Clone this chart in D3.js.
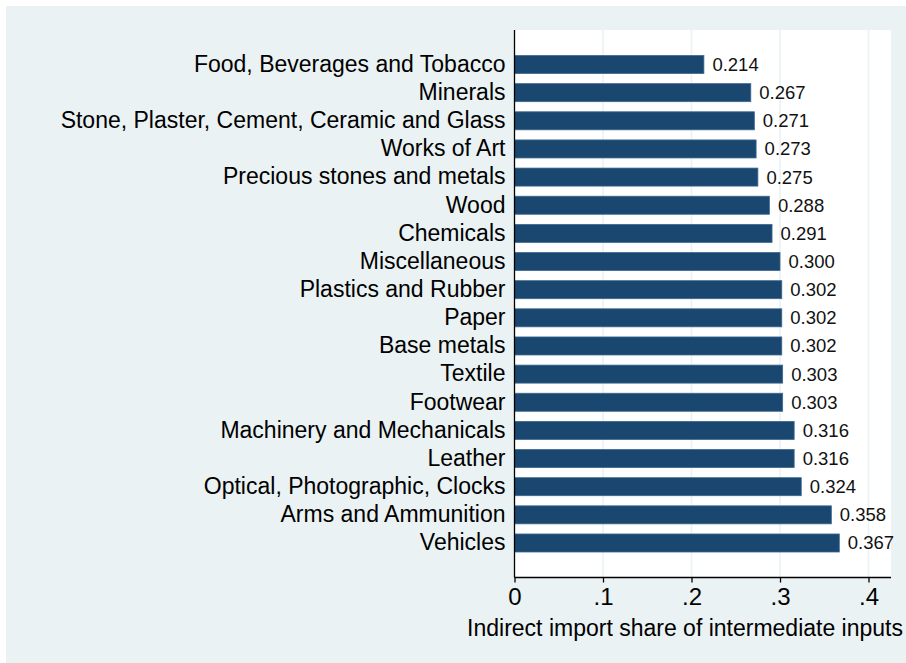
<!DOCTYPE html>
<html>
<head>
<meta charset="utf-8">
<script src="https://cdn.jsdelivr.net/npm/d3@7"></script>
<style>
html,body{margin:0;padding:0;background:#fff;}
svg{display:block;font-family:"Liberation Sans",Arial,Helvetica,sans-serif;}
</style>
</head>
<body>
<svg id="chart" width="906" height="663"></svg>
<script>
const categories = [
  "Food, Beverages and Tobacco",
  "Minerals",
  "Stone, Plaster, Cement, Ceramic and Glass",
  "Works of Art",
  "Precious stones and metals",
  "Wood",
  "Chemicals",
  "Miscellaneous",
  "Plastics and Rubber",
  "Paper",
  "Base metals",
  "Textile",
  "Footwear",
  "Machinery and Mechanicals",
  "Leather",
  "Optical, Photographic, Clocks",
  "Arms and Ammunition",
  "Vehicles"
];
const values = [0.214, 0.267, 0.271, 0.273, 0.275, 0.288, 0.291, 0.300, 0.302, 0.302, 0.302, 0.303, 0.303, 0.316, 0.316, 0.324, 0.358, 0.367];
const xTicks = [0, 0.1, 0.2, 0.3, 0.4];
const xTickLabels = ["0", ".1", ".2", ".3", ".4"];
const xTitle = "Indirect import share of intermediate inputs";

const svg = d3.select("#chart");
const W = 906, H = 663;

// graph region background
svg.append("rect").attr("x", 6).attr("y", 6).attr("width", W - 6).attr("height", H - 6).attr("fill", "#eaf2f3");

const plotLeft = 514.5, plotRight = 891, plotTop = 30, plotBottom = 577.5;
svg.append("rect").attr("x", plotLeft).attr("y", plotTop)
  .attr("width", plotRight - plotLeft).attr("height", plotBottom - plotTop).attr("fill", "#ffffff");

const x = d3.scaleLinear().domain([0, 0.4]).range([plotLeft, 868.5]);
const y = d3.scaleBand().domain(categories).range([plotTop, plotBottom])
  .paddingInner(0.36).paddingOuter(0.906);

// gridlines
svg.append("g").selectAll("line").data(xTicks.filter(d => d > 0)).join("line")
  .attr("x1", d => x(d)).attr("x2", d => x(d))
  .attr("y1", plotTop).attr("y2", plotBottom)
  .attr("stroke", "#eaf2f3").attr("stroke-width", 1.5);

// bars
svg.append("g").selectAll("rect").data(values).join("rect")
  .attr("x", x(0))
  .attr("y", (d, i) => y(categories[i]))
  .attr("width", d => x(d) - x(0))
  .attr("height", y.bandwidth())
  .attr("fill", "#1a476f")
  .attr("stroke", "#3b6890").attr("stroke-width", 0.8);

// value labels
svg.append("g").selectAll("text").data(values).join("text")
  .attr("x", d => x(d) + 8.5)
  .attr("y", (d, i) => y(categories[i]) + y.bandwidth() / 2)
  .attr("dy", "0.35em")
  .attr("font-size", 18.5)
  .attr("fill", "#111")
  .text(d => d.toFixed(3));

// y axis
const yAxis = d3.axisLeft(y).tickSize(0).tickPadding(9);
const gy = svg.append("g").attr("transform", `translate(${plotLeft},0)`).call(yAxis);
gy.select(".domain").attr("stroke", "#000").attr("stroke-width", 1.3).attr("d", `M0,${plotTop}V${plotBottom}`);
gy.selectAll("text").attr("font-size", 23).attr("fill", "#000").attr("font-family", "Liberation Sans, Arial, sans-serif");

// x axis
const xAxis = d3.axisBottom(x).tickValues(xTicks).tickFormat((d, i) => xTickLabels[i]).tickSize(5).tickPadding(5);
const gx = svg.append("g").attr("transform", `translate(0,${plotBottom})`).call(xAxis);
gx.select(".domain").attr("stroke", "#000").attr("stroke-width", 1.3).attr("d", `M${plotLeft},0H${plotRight}`);
gx.selectAll(".tick line").attr("stroke", "#000").attr("stroke-width", 1.3);
gx.selectAll("text").attr("font-size", 24).attr("fill", "#000").attr("font-family", "Liberation Sans, Arial, sans-serif");

// x title
svg.append("text").attr("x", 903).attr("y", 636)
  .attr("text-anchor", "end").attr("font-size", 23).attr("fill", "#000")
  .text(xTitle);
</script>
</body>
</html>
